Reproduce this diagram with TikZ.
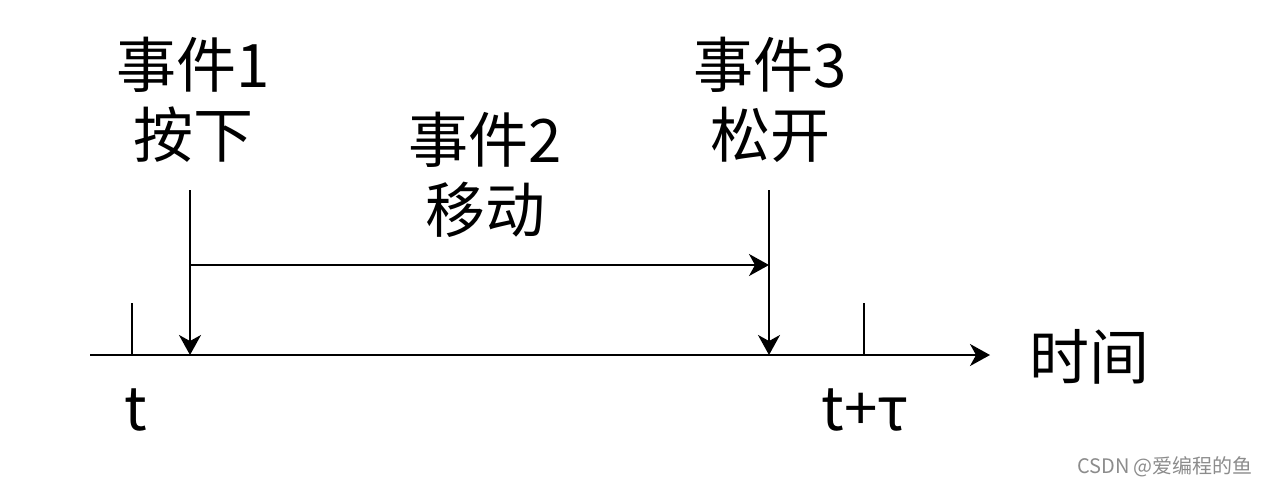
\documentclass[tikz,border=0pt]{standalone}
\usepackage{fontspec}
\setmainfont{Noto Sans CJK SC}
\usetikzlibrary{arrows.meta,positioning}

\begin{document}
\begin{tikzpicture}[x=0.5pt,y=-0.5pt,line width=1pt,
  >={Stealth[length=10pt,width=11pt,inset=3pt]},
  every node/.style={font=\fontsize{30}{35}\selectfont,align=center,inner sep=0pt},
  marca/.style={font=\fontsize{10}{12}\selectfont,text=black!45}]
\useasboundingbox (0,0) rectangle (1268,489);

% Eje del tiempo
\coordinate (ini) at (90,355);
\coordinate (fin) at (990,355);
\draw[->] (ini) -- (fin);
\node[anchor=west] (tiempo) at (1028,357) {时间};

% Marcas t y t+tau
\coordinate (t0) at (132,355);
\coordinate (t1) at (864,355);
\draw (t0) -- ++(0,-52);
\draw (t1) -- ++(0,-52);
\node (lt0) at (136,410) {t};
\node (lt1) at (865,410) {t+τ};

% Eventos
\node (ev1) at (193,100) {事件1\\按下};
\node (ev2) at (485,175) {事件2\\移动};
\node (ev3) at (770,100) {事件3\\松开};

\coordinate (a1) at (190,190);
\coordinate (a3) at (769,190);
\coordinate (m1) at (190,265);
\coordinate (m3) at (769,265);
\draw[->] (a1) -- (a1 |- ini);
\draw[->] (a3) -- (a3 |- ini);
\draw[->] (m1) -- (m3);

% Marca de agua
\node[marca] (csdn) at (1165,467) {CSDN @爱编程的鱼};

\end{tikzpicture}
\end{document}
